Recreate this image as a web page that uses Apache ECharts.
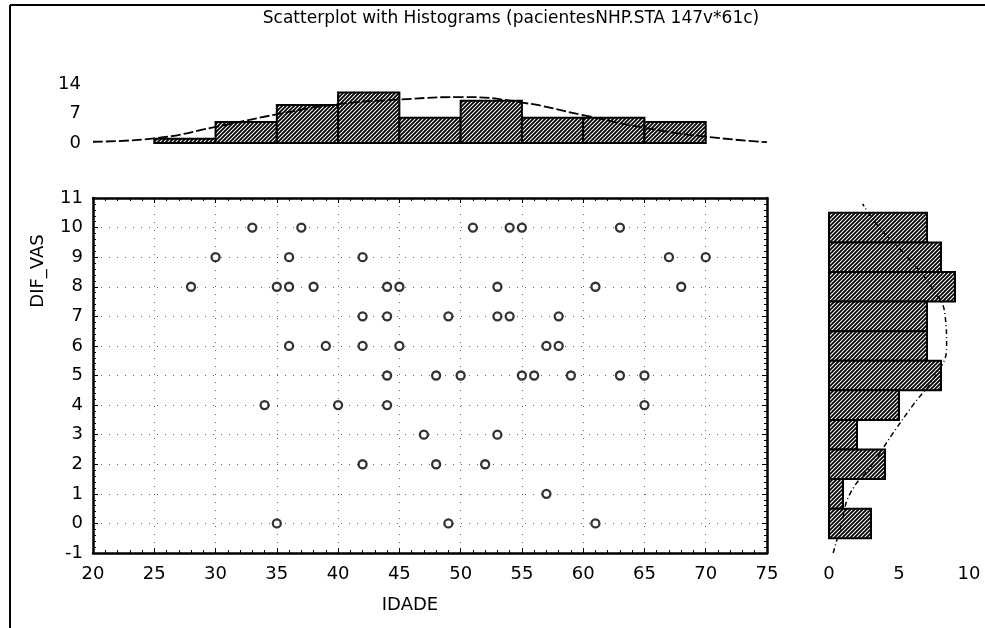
<!DOCTYPE html>
<html>
<head>
<meta charset="utf-8">
<title>Scatterplot with Histograms</title>
<script src="https://cdn.jsdelivr.net/npm/echarts/dist/echarts.min.js"></script>
<style>
  html, body { margin: 0; padding: 0; background: #fff; }
  #chart { width: 985px; height: 628px; }
</style>
</head>
<body>
<div id="chart"></div>
<script>
// scatter points (IDADE, DIF_VAS)
const idade = [33, 37, 51, 54, 55, 63,
  30, 36, 42, 67, 70,
  28, 35, 36, 38, 44, 45, 53, 61, 68,
  42, 44, 49, 53, 54, 58,
  36, 39, 42, 45, 57, 58,
  44, 48, 50, 55, 56, 59, 63, 65,
  34, 40, 44, 65,
  47, 53,
  42, 48, 52,
  57,
  35, 49, 61];
const difVas = [10, 10, 10, 10, 10, 10,
  9, 9, 9, 9, 9,
  8, 8, 8, 8, 8, 8, 8, 8, 8,
  7, 7, 7, 7, 7, 7,
  6, 6, 6, 6, 6, 6,
  5, 5, 5, 5, 5, 5, 5, 5,
  4, 4, 4, 4,
  3, 3,
  2, 2, 2,
  1,
  0, 0, 0];

// top histogram of IDADE (bins of 5 years)
const ageBinStart = [25, 30, 35, 40, 45, 50, 55, 60, 65];
const ageCounts = [1, 5, 9, 12, 6, 10, 6, 6, 5];
// fitted curve
const ageCurveX = [20, 25, 30, 35, 40, 45, 50, 55, 60, 65, 70, 75];
const ageCurveY = [0.3, 1.1, 3.8, 6.8, 9.2, 10.3, 10.9, 9.6, 6.6, 3.6, 1.5, 0.2];

// right histogram of DIF_VAS
const vasLevels = [10, 9, 8, 7, 6, 5, 4, 3, 2, 1, 0];
const vasCounts = [7, 8, 9, 7, 7, 8, 5, 2, 4, 1, 3];
const vasCurveY = [-1, 0, 1, 2, 3, 4, 5, 6, 7, 8, 9, 10, 10.8];
const vasCurveX = [0.3, 0.9, 1.5, 3.1, 4.5, 6.0, 7.6, 8.4, 8.3, 7.3, 5.6, 3.6, 2.4];

const xTicks = [20, 25, 30, 35, 40, 45, 50, 55, 60, 65, 70, 75];

const FONT = "DejaVu Sans";

function hatch() {
  const c = document.createElement("canvas");
  c.width = 4; c.height = 4;
  const g = c.getContext("2d");
  g.fillStyle = "#ffffff";
  g.fillRect(0, 0, 4, 4);
  g.strokeStyle = "#000";
  g.lineWidth = 1.8;
  g.beginPath();
  g.moveTo(-1, 5); g.lineTo(5, -1);
  g.moveTo(-1, 1); g.lineTo(1, -1);
  g.moveTo(3, 5); g.lineTo(5, 3);
  g.stroke();
  return c;
}
const pattern = { image: hatch(), repeat: "repeat" };

const label = { color: "#000", fontFamily: FONT, fontSize: 18 };
const dots = { show: true, lineStyle: { color: "#666", width: 1, type: [1, 7] } };
const frame = { onZero: false, lineStyle: { color: "#000", width: 2.5 } };
const ticks = { inside: true, length: 5, lineStyle: { color: "#000" } };
const minor = { show: true, splitNumber: 5, length: 3, lineStyle: { color: "#000" } };

const chart = echarts.init(document.getElementById("chart"));

chart.setOption({
  animation: false,
  backgroundColor: "#fff",
  graphic: [
    { type: "line", shape: { x1: 10, y1: 5, x2: 985, y2: 5 }, style: { stroke: "#000", lineWidth: 2 } },
    { type: "line", shape: { x1: 10, y1: 5, x2: 10, y2: 628 }, style: { stroke: "#000", lineWidth: 2 } },
    {
      type: "text", x: 511, y: 19,
      style: { text: "Scatterplot with Histograms (pacientesNHP.STA 147v*61c)", fill: "#000",
        font: "17px '" + FONT + "'", textAlign: "center", textVerticalAlign: "middle" }
    },
    {
      type: "text", x: 410, y: 605,
      style: { text: "IDADE", fill: "#000", font: "18px '" + FONT + "'", textAlign: "center", textVerticalAlign: "middle" }
    },
    {
      type: "text", x: 38, y: 271, rotation: Math.PI / 2,
      style: { text: "DIF_VAS", fill: "#000", font: "18px '" + FONT + "'", textAlign: "center", textVerticalAlign: "middle" }
    }
  ],
  grid: [
    { left: 93, top: 198, width: 674, height: 355 },
    { left: 93, top: 84, width: 674, height: 59 },
    { left: 829, top: 198, width: 140, height: 355 }
  ],
  xAxis: [
    {
      gridIndex: 0, type: "value", min: 20, max: 75, interval: 5,
      axisLine: frame, axisTick: ticks, minorTick: minor,
      axisLabel: Object.assign({ margin: 12, customValues: xTicks }, label),
      splitLine: dots
    },
    {
      gridIndex: 0, type: "value", position: "top", min: 20, max: 75, interval: 5,
      axisLine: frame, axisTick: ticks, minorTick: minor,
      axisLabel: { show: false }, splitLine: { show: false }
    },
    { gridIndex: 1, type: "value", min: 20, max: 75, show: false },
    {
      gridIndex: 2, type: "value", min: 0, max: 10, interval: 5,
      axisLine: { show: false }, axisTick: { show: false }, splitLine: { show: false },
      axisLabel: Object.assign({ margin: 12 }, label)
    }
  ],
  yAxis: [
    {
      gridIndex: 0, type: "value", min: -1, max: 11, interval: 1,
      axisLine: frame, axisTick: ticks, minorTick: minor,
      axisLabel: Object.assign({ margin: 10 }, label),
      splitLine: dots
    },
    {
      gridIndex: 0, type: "value", position: "right", min: -1, max: 11, interval: 1,
      axisLine: frame, axisTick: ticks, minorTick: minor,
      axisLabel: { show: false }, splitLine: { show: false }
    },
    {
      gridIndex: 1, type: "value", min: 0, max: 14, interval: 7,
      axisLine: { show: false }, axisTick: { show: false }, splitLine: { show: false },
      axisLabel: Object.assign({ margin: 12 }, label)
    },
    { gridIndex: 2, type: "value", min: -1, max: 11, show: false }
  ],
  series: [
    {
      type: "scatter", xAxisIndex: 0, yAxisIndex: 0,
      symbol: "circle", symbolSize: 8,
      itemStyle: { color: "#fff", borderColor: "#000", borderWidth: 2.3 },
      data: idade.map((a, i) => [a, difVas[i]])
    },
    {
      type: "custom", xAxisIndex: 2, yAxisIndex: 2,
      encode: { x: [0, 1], y: 2 },
      data: ageBinStart.map((s, i) => [s, s + 5, ageCounts[i]]),
      renderItem(params, api) {
        const p0 = api.coord([api.value(0), api.value(2)]);
        const p1 = api.coord([api.value(1), 0]);
        return {
          type: "rect",
          shape: { x: p0[0], y: p0[1], width: p1[0] - p0[0], height: p1[1] - p0[1] },
          style: { fill: pattern, stroke: "#000", lineWidth: 2 }
        };
      }
    },
    {
      type: "line", xAxisIndex: 2, yAxisIndex: 2, smooth: true, symbol: "none", z: 5,
      lineStyle: { color: "#000", width: 1.8, type: [10, 3] },
      data: ageCurveX.map((a, i) => [a, ageCurveY[i]])
    },
    {
      type: "custom", xAxisIndex: 3, yAxisIndex: 3,
      encode: { x: 2, y: [0, 1] },
      data: vasLevels.map((v, i) => [v - 0.5, v + 0.5, vasCounts[i]]),
      renderItem(params, api) {
        const p0 = api.coord([api.value(2), api.value(1)]);
        const p1 = api.coord([0, api.value(0)]);
        return {
          type: "rect",
          shape: { x: p1[0], y: p0[1], width: p0[0] - p1[0], height: p1[1] - p0[1] },
          style: { fill: pattern, stroke: "#000", lineWidth: 2 }
        };
      }
    },
    {
      type: "line", xAxisIndex: 3, yAxisIndex: 3, smooth: true, symbol: "none", z: 5,
      lineStyle: { color: "#000", width: 1.5, type: [5, 3, 1, 3] },
      data: vasCurveY.map((v, i) => [vasCurveX[i], v])
    }
  ]
});
</script>
</body>
</html>
